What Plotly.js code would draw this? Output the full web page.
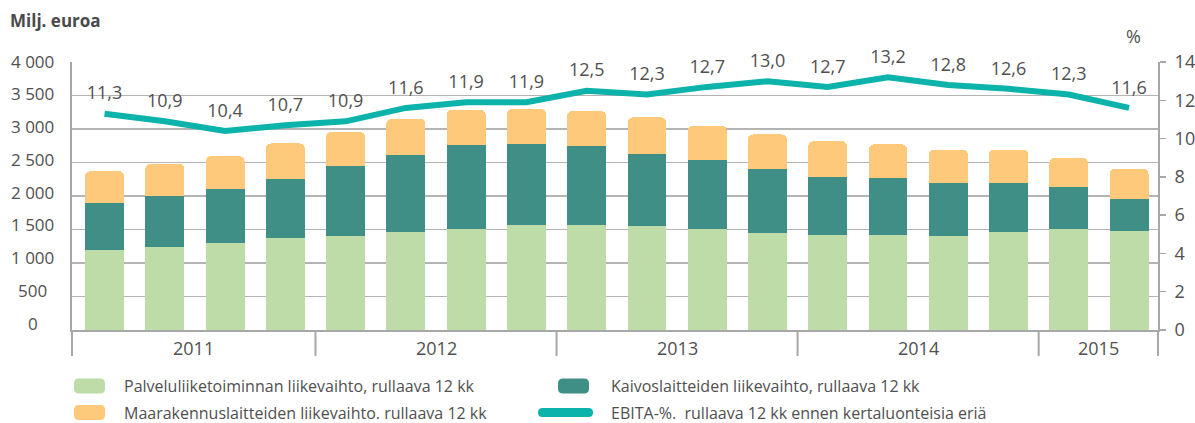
<!DOCTYPE html>
<html><head><meta charset="utf-8">
<script src="https://cdn.plot.ly/plotly-3.0.1.min.js"></script>
<style>html,body{margin:0;padding:0;background:#fff}#chart{width:1195px;height:423px}</style>
</head><body><div id="chart"></div>
<script>
// ---- data ----
const periods = ['Q1/2011','Q2/2011','Q3/2011','Q4/2011','Q1/2012','Q2/2012','Q3/2012','Q4/2012',
  'Q1/2013','Q2/2013','Q3/2013','Q4/2013','Q1/2014','Q2/2014','Q3/2014','Q4/2014','Q1/2015','Q2/2015'];
const years = ['2011','2012','2013','2014','2015'];
const yearCounts = [4,4,4,4,2];
const palvelu = [1200,1246,1306,1366,1410,1470,1515,1560,1560,1545,1515,1455,1425,1425,1410,1470,1515,1485];
const kaivos  = [703,747,806,895,1035,1149,1239,1209,1179,1089,1015,941,866,851,791,731,612,463];
const maarak  = [467,487,482,523,513,533,537,532,532,538,522,522,527,493,493,493,438,462];
const ebita   = [11.3,10.9,10.4,10.7,10.9,11.6,11.9,11.9,12.5,12.3,12.7,13.0,12.7,13.2,12.8,12.6,12.3,11.6];
const ebitaLabels = ebita.map(v => v.toFixed(1).replace('.', ','));
const leftTickVals = [0,500,1000,1500,2000,2500,3000,3500,4000];
const leftTickLabels = ['0','500','1 000','1 500','2 000','2 500','3 000','3 500','4 000'];
const rightTickVals = [0,2,4,6,8,10,12,14];
const rightTickLabels = ['0','2','4','6','8','10','12','14'];
const seriesNames = [
  'Palveluliiketoiminnan liikevaihto, rullaava 12 kk',
  'Kaivoslaitteiden liikevaihto, rullaava 12 kk',
  'Maarakennuslaitteiden liikevaihto. rullaava 12 kk',
  'EBITA-%.  rullaava 12 kk ennen kertaluonteisia eriä'
];
const colors = ['#bddca8','#3f8f86','#fec97a','#0bb3ab'];

// ---- geometry helpers ----
const W = 1195, H = 423;
const M = {l:72, r:37, t:62, b:93};
const PW = W - M.l - M.r, PH = H - M.t - M.b;
const px2paperX = x => (x - M.l) / PW;
const px2paperY = y => (H - M.b - y) / PH;
const xRange = [-0.54, 17.48];
const FONT = 'Open Sans, sans-serif';
const TXT = '#505050';
const AX = '#a8a8a8';

function roundRect(w, h, r) {
  const a = w/2, b = h/2;
  return `M ${-a+r},${-b} H ${a-r} Q ${a},${-b} ${a},${-b+r} V ${b-r} Q ${a},${b} ${a-r},${b} H ${-a+r} Q ${-a},${b} ${-a},${b-r} V ${-b+r} Q ${-a},${-b} ${-a+r},${-b} Z`;
}

const traces = [
  {type:'bar', x:periods, y:palvelu, name:seriesNames[0], marker:{color:colors[0]}, hoverinfo:'y'},
  {type:'bar', x:periods, y:kaivos, name:seriesNames[1], marker:{color:colors[1]}, hoverinfo:'y'},
  {type:'bar', x:periods, y:maarak, name:seriesNames[2], marker:{color:colors[2]}, hoverinfo:'y'},
  {type:'scatter', x:periods, y:ebita, yaxis:'y2', name:seriesNames[3], mode:'lines+markers+text',
   line:{color:colors[3], width:6}, marker:{size:14, color:'rgba(0,0,0,0)'},
   text:ebitaLabels, textposition:'top center', textfont:{family:FONT, size:18, color:TXT},
   cliponaxis:false}
];

const shapes = [];
const annotations = [];

// year group dividers and labels
let start = 0;
const bounds = [];
yearCounts.forEach((c, i) => {
  const lo = i === 0 ? xRange[0] : start - 0.5;
  const hi = i === yearCounts.length - 1 ? xRange[1] : start + c - 0.5;
  annotations.push({text:years[i], xref:'x', x:(lo+hi)/2, yref:'paper', y:px2paperY(348),
    xanchor:'center', yanchor:'middle', showarrow:false, font:{family:FONT, size:18, color:TXT}});
  if (i < yearCounts.length - 1) bounds.push(start + c - 0.5);
  start += c;
});
const tickBottom = px2paperY(356);
bounds.forEach(b => shapes.push({type:'line', xref:'x', x0:b, x1:b, yref:'paper', y0:0, y1:tickBottom,
  line:{color:AX, width:2}}));
[0,1].forEach(p => shapes.push({type:'line', xref:'paper', x0:p, x1:p, yref:'paper', y0:0, y1:tickBottom,
  line:{color:AX, width:2}}));

// left tick labels (centered, slightly raised like the original)
leftTickVals.forEach((v, i) => annotations.push({text:leftTickLabels[i], xref:'paper', x:px2paperX(32.5),
  yref:'y', y:v, yshift:1 + 6 * (1 - v / 4000), xanchor:'center', yanchor:'middle', showarrow:false,
  font:{family:FONT, size:17, color:TXT}}));

// titles
annotations.push({text:'<b>Milj. euroa</b>', xref:'paper', x:px2paperX(8), yref:'paper', y:px2paperY(21),
  xanchor:'left', yanchor:'middle', showarrow:false, font:{family:FONT, size:17, color:'#4a4a4a'}});
annotations.push({text:'%', xref:'paper', x:px2paperX(1133), yref:'paper', y:px2paperY(36),
  xanchor:'center', yanchor:'middle', showarrow:false, font:{family:FONT, size:18, color:TXT}});

// custom legend
const legendItems = [
  {cx:89.5, cy:386, w:31, h:15, r:5, color:colors[0], tx:123, text:seriesNames[0]},
  {cx:573.5, cy:386, w:31, h:15, r:5, color:colors[1], tx:610, text:seriesNames[1]},
  {cx:89.5, cy:412.5, w:31, h:15, r:5, color:colors[2], tx:123, text:seriesNames[2]},
  {cx:565.5, cy:412.5, w:55, h:9, r:4.5, color:colors[3], tx:610, text:seriesNames[3]}
];
legendItems.forEach(it => {
  shapes.push({type:'path', xref:'paper', yref:'paper', xsizemode:'pixel', ysizemode:'pixel',
    xanchor:px2paperX(it.cx), yanchor:px2paperY(it.cy), path:roundRect(it.w, it.h, it.r),
    fillcolor:it.color, line:{width:0}});
  annotations.push({text:it.text, xref:'paper', x:px2paperX(it.tx), yref:'paper', y:px2paperY(it.cy),
    xanchor:'left', yanchor:'middle', showarrow:false, borderpad:0, font:{family:FONT, size:16, color:TXT}});
});

const layout = {
  width:W, height:H, margin:M, paper_bgcolor:'#fff', plot_bgcolor:'#fff',
  barmode:'stack', bargap:0.355, barcornerradius:5, showlegend:false,
  font:{family:FONT, color:TXT},
  xaxis:{type:'category', range:xRange, showticklabels:false, ticks:'', showgrid:false,
    showline:true, linecolor:AX, linewidth:2, zeroline:false, fixedrange:true},
  yaxis:{range:[0,4000], tickvals:leftTickVals, showticklabels:false, ticks:'', showgrid:true,
    gridcolor:'#b4b4b4', gridwidth:1.5, showline:true, linecolor:AX, linewidth:2, zeroline:false, fixedrange:true},
  yaxis2:{overlaying:'y', side:'right', range:[0,14], tickvals:rightTickVals, ticktext:rightTickLabels,
    ticks:'outside', ticklen:6, tickwidth:1.5, tickcolor:AX, showline:true, linecolor:AX, linewidth:2,
    showgrid:false, zeroline:false, tickfont:{family:FONT, size:18, color:TXT}, ticklabelstandoff:5, fixedrange:true},
  shapes, annotations
};
Plotly.newPlot('chart', traces, layout, {displayModeBar:false, staticPlot:true});
</script></body></html>
